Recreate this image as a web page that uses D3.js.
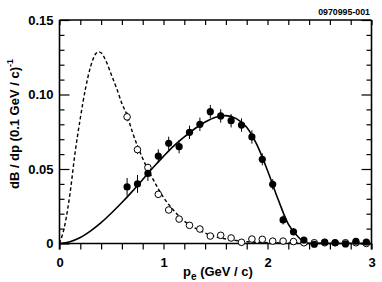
<!DOCTYPE html>
<html><head><meta charset="utf-8">
<script src="https://cdn.jsdelivr.net/npm/d3@7"></script>
<style>
body{margin:0;background:#fff;}
svg{display:block;font-family:"Liberation Sans",Arial,Helvetica,sans-serif;font-weight:bold;}
</style></head><body>
<svg id="c" width="382" height="282"></svg>
<script>
// ---- data ----
const binCenters = [0.65,0.75,0.85,0.95,1.05,1.15,1.25,1.35,1.45,1.55,1.65,1.75,1.85,1.95,2.05,2.15,2.25,2.35,2.45,2.55,2.65,2.75,2.85,2.95];
const filledVals = [0.038,0.040,0.047,0.0587,0.0672,0.065,0.0746,0.080,0.0885,0.0856,0.0824,0.0795,0.0715,0.0565,0.0397,0.0158,0.0079,0.0023,-0.0005,0.001,0.0005,-0.0003,0.0015,0.001];
const filledErr  = [0.006,0.006,0.005,0.0045,0.0045,0.0045,0.0045,0.0045,0.0045,0.0045,0.0045,0.0045,0.0045,0.004,0.0035,0.003,0.0025,0.002,0.0018,0.0015,0.0015,0.0015,0.0015,0.0015];
const openVals   = [0.085,0.063,0.051,0.033,0.0225,0.0164,0.0122,0.0097,0.005,0.0055,0.0037,0.0008,0.003,0.0028,0.0016,0.0016,0.0013,0.0005,0.0005,0.0005,0.0005,0.0005,0.0005,0.0];
const openErr    = [0.003,0.003,0.0025,0.0025,0.002,0.002,0.002,0.002,0.002,0.002,0.002,0.002,0.0015,0.0015,0.0015,0.0015,0.0015,0.0015,0.0015,0.0015,0.0015,0.0015,0.0015,0.0015];
// solid curve (fit to filled points)
const solidX = [0,0.1,0.2,0.3,0.4,0.5,0.6,0.7,0.8,0.9,1.0,1.1,1.2,1.3,1.4,1.5,1.6,1.7,1.8,1.9,2.0,2.1,2.2,2.3,2.38,2.6,3.0];
const solidY = [0,0.0012,0.004,0.0085,0.014,0.0205,0.0275,0.035,0.043,0.051,0.0585,0.0655,0.0715,0.077,0.0815,0.0848,0.0858,0.0838,0.078,0.066,0.049,0.030,0.013,0.004,0.0,0.0,0.0];
// dashed curve (fit to open points)
const dashX = [0,0.05,0.1,0.15,0.2,0.25,0.3,0.35,0.375,0.4,0.45,0.5,0.55,0.6,0.65,0.7,0.8,0.9,1.0,1.1,1.2,1.3,1.4,1.5,1.6,1.7,1.8,2.0,2.5,3.0];
const dashY = [0,0.012,0.033,0.061,0.084,0.104,0.119,0.1275,0.1287,0.128,0.122,0.113,0.104,0.094,0.086,0.075,0.057,0.043,0.031,0.022,0.015,0.0105,0.007,0.0045,0.003,0.002,0.0012,0.0006,0.0002,0];
const xTickLabels = [0,1,2,3];
const yTickLabels = [0,0.05,0.10,0.15];
const yTickText = ["0","0.05","0.10","0.15"];

// ---- layout ----
const L = 59.5, R = 371.5, T = 20, B = 243.5;
const svg = d3.select("#c");
const x = d3.scaleLinear().domain([0,3]).range([L,R]);
const y = d3.scaleLinear().domain([0,0.15]).range([B,T]);

const g = svg.append("g");

// curves
const line = d3.line().x(d=>x(d[0])).y(d=>y(d[1])).curve(d3.curveMonotoneX);
g.append("path").datum(solidX.map((v,i)=>[v,solidY[i]]))
  .attr("d",line).attr("fill","none").attr("stroke","#000").attr("stroke-width",1.6);
g.append("path").datum(dashX.map((v,i)=>[v,dashY[i]]))
  .attr("d",line).attr("fill","none").attr("stroke","#000").attr("stroke-width",1.4)
  .attr("stroke-dasharray","3.5,2.5");

// frame lines
const frame = svg.append("g").attr("stroke","#000").attr("stroke-width",1.6).attr("fill","none");
frame.append("line").attr("x1",L).attr("x2",L).attr("y1",T).attr("y2",B+6);
frame.append("line").attr("x1",R).attr("x2",R).attr("y1",T).attr("y2",B+6);
frame.append("line").attr("x1",L).attr("x2",R).attr("y1",T).attr("y2",T);
frame.append("line").attr("x1",L).attr("x2",R).attr("y1",B).attr("y2",B);

// axes ticks
const minorX = d3.range(0,3.0001,0.2);
const minorY = d3.range(0,0.15001,0.01);
function styleAxis(sel){ sel.select(".domain").remove(); sel.selectAll("line").attr("stroke","#000").attr("stroke-width",1.2); }
svg.append("g").attr("transform",`translate(0,${B})`)
  .call(d3.axisBottom(x).tickValues(minorX).tickSize(6).tickFormat(""))
  .call(styleAxis);
svg.append("g").attr("transform",`translate(0,${T})`)
  .call(d3.axisTop(x).tickValues(minorX).tickSize(-5).tickFormat(""))
  .call(styleAxis);
svg.append("g").attr("transform",`translate(${L},0)`)
  .call(d3.axisLeft(y).tickValues(minorY).tickSize(-5).tickFormat(""))
  .call(styleAxis)
  .selectAll(".tick line").attr("x2",d=>Math.abs(d/0.05-Math.round(d/0.05))<1e-6?10:5);
svg.append("g").attr("transform",`translate(${R},0)`)
  .call(d3.axisRight(y).tickValues(minorY).tickSize(-5).tickFormat(""))
  .call(styleAxis)
  .selectAll(".tick line").attr("x2",d=>Math.abs(d/0.05-Math.round(d/0.05))<1e-6?-10:-5);

// tick labels
const xl = svg.append("g").attr("transform",`translate(0,${B})`)
  .call(d3.axisBottom(x).tickValues(xTickLabels).tickSize(0).tickPadding(14).tickFormat(d3.format("d")));
xl.select(".domain").remove();
xl.selectAll("text").attr("font-size",13).attr("font-weight","bold").attr("font-family","Liberation Sans, Arial, sans-serif").attr("fill","#000");
const yl = svg.append("g").attr("transform",`translate(${L},0)`)
  .call(d3.axisLeft(y).tickValues(yTickLabels).tickSize(0).tickPadding(6).tickFormat((d,i)=>yTickText[i]));
yl.select(".domain").remove();
yl.selectAll("text").attr("font-size",13).attr("font-weight","bold").attr("font-family","Liberation Sans, Arial, sans-serif").attr("fill","#000");

// error bars & points
const pts = svg.append("g");
binCenters.forEach((c,i)=>{
  pts.append("line").attr("x1",x(c)).attr("x2",x(c))
    .attr("y1",y(filledVals[i]-filledErr[i])).attr("y2",y(filledVals[i]+filledErr[i]))
    .attr("stroke","#000").attr("stroke-width",1);
  pts.append("line").attr("x1",x(c)).attr("x2",x(c))
    .attr("y1",y(openVals[i]-openErr[i])).attr("y2",y(openVals[i]+openErr[i]))
    .attr("stroke","#000").attr("stroke-width",1);
});
pts.selectAll("circle.o").data(binCenters).join("circle").attr("class","o")
  .attr("cx",d=>x(d)).attr("cy",(d,i)=>y(openVals[i])).attr("r",3.3)
  .attr("fill","#fff").attr("stroke","#000").attr("stroke-width",1);
pts.selectAll("circle.f").data(binCenters).join("circle").attr("class","f")
  .attr("cx",d=>x(d)).attr("cy",(d,i)=>y(filledVals[i])).attr("r",3.6)
  .attr("fill","#000");

// axis titles
const xt = svg.append("text").attr("x",183).attr("y",276).attr("font-size",13).attr("font-weight","bold").attr("fill","#000");
xt.append("tspan").text("p");
xt.append("tspan").attr("font-size",10).attr("dy",4).text("e");
xt.append("tspan").attr("dy",-4).text(" (GeV / c)");

const yt = svg.append("text").attr("transform","translate(19,124) rotate(-90)")
  .attr("text-anchor","middle").attr("font-size",13).attr("font-weight","bold").attr("fill","#000");
yt.append("tspan").text("dB / dp (0.1 GeV / c)");
yt.append("tspan").attr("font-size",9).attr("dy",-6).text("-1");

svg.append("text").attr("x",370).attr("y",15).attr("text-anchor","end")
  .attr("font-size",8.8).attr("font-weight","bold").attr("fill","#000").text("0970995-001");
</script>
</body></html>
